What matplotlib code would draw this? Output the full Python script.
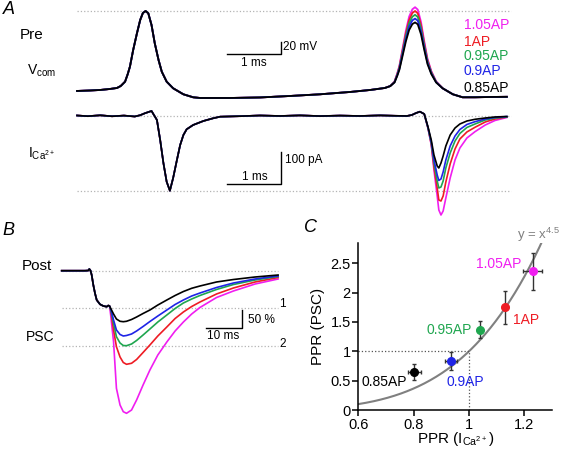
import matplotlib
matplotlib.use("Agg")
import matplotlib.pyplot as plt
import numpy as np

plt.rcParams['font.family'] = ['Liberation Sans', 'DejaVu Sans']
plt.rcParams['mathtext.fontset'] = 'custom'
plt.rcParams['mathtext.rm'] = 'Liberation Sans'

# conditions (second pulse scaling)
labels = ['1.05AP', '1AP', '0.95AP', '0.9AP', '0.85AP']
colors = ['#f01ef0', '#ee1c24', '#1fa64f', '#1f24e6', '#000000']

# ---- panel A, presynaptic voltage command (ms, mV) ----
pre_t1 = [0, 0.24, 0.43, 0.61, 0.74, 0.81, 0.89, 0.94, 0.98, 1.04, 1.11, 1.17, 1.22, 1.27,
          1.32, 1.38, 1.44, 1.51, 1.57, 1.66, 1.78, 1.97, 2.15, 2.28, 2.83, 3.39, 3.94, 4.5,
          5.06, 5.43, 5.70]
pre_v1 = [-76.8, -76.0, -75.1, -73.4, -71.7, -68.3, -60.9, -47.8, -35.3, -6.8, 21.8, 44.5,
          56.5, 59.9, 56.0, 36.0, 4.7, -23.9, -43.9, -60.9, -72.2, -82.5, -87.6, -88.8,
          -88.8, -87.9, -85.4, -82.5, -78.5, -75.1, -71.7]
pre_t2 = [5.80, 5.88, 5.93, 5.97, 6.03, 6.09, 6.15, 6.21, 6.26, 6.31, 6.37, 6.43, 6.49, 6.56, 6.65]
pre_v2 = [
    [-68.2, -60.4, -46.7, -33.6, -3.6, 26.4, 50.2, 62.8, 66.4, 62.3, 41.3, 8.4, -21.6, -42.6, -60.4],
    [-68.3, -60.9, -47.8, -35.3, -6.8, 21.8, 44.5, 56.5, 59.9, 56.0, 36.0, 4.7, -23.9, -43.9, -60.9],
    [-68.4, -61.4, -48.9, -37.0, -10.0, 17.2, 38.8, 50.2, 53.4, 49.7, 30.7, 1.0, -26.2, -45.2, -61.4],
    [-68.5, -61.8, -50.0, -38.8, -13.1, 12.6, 33.1, 43.9, 46.9, 43.4, 25.4, -2.8, -28.5, -46.5, -61.8],
    [-68.6, -62.3, -51.1, -40.5, -16.3, 8.0, 27.3, 37.5, 40.4, 37.1, 20.1, -6.5, -30.8, -47.8, -62.3],
]
pre_t3 = [6.77, 6.96, 7.14, 7.37, 7.65, 7.96]
pre_v3 = [-72.2, -82.5, -87.6, -87.6, -87.1, -86.8]

# ---- panel A, calcium current (ms, pA) ----
ica_t1 = [0, 0.20, 0.43, 0.65, 0.87, 1.07, 1.17, 1.26, 1.38, 1.48, 1.54, 1.60, 1.66, 1.72,
          1.78, 1.85, 1.91, 1.97, 2.03, 2.15, 2.34, 2.52, 2.65, 3.02, 3.39, 3.76, 4.13, 4.50,
          4.87, 5.24, 5.61, 5.89, 6.11, 6.20, 6.28, 6.35, 6.43]
ica_v1 = [0.6, -1.5, 1.2, -1.8, 0.3, -2.5, 1.5, 7.7, 14.4, -13.2, -74.6, -145.3, -202.7,
          -230.3, -191.3, -136.1, -90.1, -59.4, -41.8, -28.6, -16.3, -8.0, -3.1, -1.5, 0.6,
          -0.9, 0.9, -1.2, 0.3, -0.9, 0.9, -0.3, -0.9, 2.1, 8.3, 12.3, 5.2]
ica_t2 = [6.50, 6.56, 6.61, 6.67, 6.70, 6.74, 6.78, 6.83, 6.91, 7.00, 7.09, 7.22, 7.37, 7.56, 7.74, 7.96]
ica_v2 = [
    [-39.3, -90.0, -166.7, -246.5, -289.5, -304.9, -292.6, -252.7, -191.3, -136.0, -99.2, -68.5, -49.1, -28.6, -14.7, -5.5],
    [-37.8, -86.9, -157.5, -222.0, -258.8, -261.9, -246.5, -203.5, -148.3, -102.2, -71.5, -50.0, -35.6, -19.3, -10.1, -4.0],
    [-37.8, -83.8, -145.2, -200.5, -222.0, -218.9, -200.5, -160.6, -114.5, -77.7, -54.6, -36.2, -25.5, -13.2, -7.1, -4.0],
    [-36.2, -80.7, -136.0, -182.1, -198.9, -194.3, -172.8, -136.0, -93.0, -62.3, -42.4, -27.0, -18.4, -10.1, -5.5, -2.5],
    [-34.7, -74.6, -120.7, -154.4, -160.6, -145.2, -123.7, -93.0, -59.3, -37.8, -25.5, -16.3, -11.1, -7.1, -4.0, -2.5],
]

# ---- panel B, postsynaptic currents (ms, normalised to first PSC) ----
psc_t1 = [0, 6.47, 7.39, 7.67, 8.0, 8.33, 8.78, 9.25, 9.72, 10.64, 11.56, 12.5, 12.94, 13.28]
psc_v1 = [0, 0, 0.005, 0.045, 0.005, -0.115, -0.381, -0.603, -0.781, -0.896, -0.941, -0.96, -0.928, -0.941]
psc_t2 = [13.6, 14.4, 15.2, 16.2, 17.1, 18.0, 19.4, 20.8, 22.6, 24.5, 26.7, 29.2, 31.5,
          33.8, 36.1, 38.4, 43.0, 47.7, 53.7, 60.1]
psc_v2 = [
    [-1.181, -1.893, -3.136, -3.581, -3.76, -3.803, -3.715, -3.448, -3.048, -2.648, -2.248, -1.901, -1.608, -1.368, -1.155, -0.981, -0.715, -0.541, -0.355, -0.221],
    [-1.048, -1.581, -2.027, -2.301, -2.448, -2.496, -2.469, -2.368, -2.181, -1.981, -1.741, -1.501, -1.275, -1.101, -0.955, -0.835, -0.621, -0.461, -0.301, -0.181],
    [-1.035, -1.403, -1.76, -1.928, -1.995, -2.0, -1.955, -1.861, -1.715, -1.555, -1.368, -1.181, -1.008, -0.861, -0.755, -0.661, -0.501, -0.368, -0.248, -0.155],
    [-1.021, -1.315, -1.581, -1.701, -1.741, -1.728, -1.688, -1.608, -1.488, -1.355, -1.208, -1.048, -0.901, -0.781, -0.675, -0.595, -0.448, -0.328, -0.221, -0.141],
    [-1.003, -1.155, -1.288, -1.349, -1.36, -1.349, -1.301, -1.235, -1.141, -1.048, -0.915, -0.781, -0.661, -0.555, -0.469, -0.408, -0.301, -0.235, -0.168, -0.115],
]

# ---- panel C, paired-pulse ratios ----
ppr_ca = [1.230, 1.130, 1.040, 0.934, 0.802]
ppr_ca_err = [0.035, 0.007, 0.005, 0.022, 0.024]
ppr_psc = [2.36, 1.75, 1.37, 0.83, 0.645]
ppr_psc_err = [0.32, 0.28, 0.15, 0.15, 0.135]
fit_exp = 4.5

W, H = 562, 449
def P(x, y):
    return x / W, 1 - y / H

fig = plt.figure(figsize=(W / 100, H / 100), dpi=100)
grey = '#b4b4b4'

# --- A top ---
axA1 = fig.add_axes([0, 1 - 105 / H, 1, 105 / H])
axA1.set_xlim(-1.426, 8.981)
axA1.set_ylim(-100.8, 78.7)
axA1.axis('off')
axA1.plot([0, 8.04], [max(pre_v1)] * 2, ls=':', color=grey, lw=0.9)
for i in range(5):
    t = pre_t1 + pre_t2 + pre_t3
    v = pre_v1 + pre_v2[i] + pre_v3
    axA1.plot(t, v, color=colors[i], lw=1.3)
axA1.plot([2.78, 3.78, 3.78], [-13.6, -13.6, 6.4], color='k', lw=1)

# --- A bottom ---
axA2 = fig.add_axes([0, 1 - 225 / H, 1, 120 / H])
axA2.set_xlim(-1.426, 8.981)
axA2.set_ylim(-335.6, 32.8)
axA2.axis('off')
axA2.plot([0, 8.04], [0, 0], ls=':', color=grey, lw=0.9)
axA2.plot([0, 8.04], [min(ica_v1)] * 2, ls=':', color=grey, lw=0.9)
for i in range(5):
    axA2.plot(ica_t1 + ica_t2, ica_v1 + ica_v2[i], color=colors[i], lw=1.2)
axA2.plot([2.78, 3.78, 3.78], [-210.6, -210.6, -110.6], color='k', lw=1)

# --- B ---
axB = fig.add_axes([0, 0, 300 / W, 224 / H])
axB.set_xlim(-17.14, 66.19)
axB.set_ylim(-4.755, 1.219)
axB.axis('off')
for lev in [0, -1, -2]:
    axB.plot([0, 60.2], [lev, lev], ls=':', color=grey, lw=0.9)
for i in range(5):
    axB.plot(psc_t1 + psc_t2, psc_v1 + psc_v2[i], color=colors[i], lw=1.2)
axB.plot([40, 50, 50], [-1.536, -1.536, -1.036], color='k', lw=1)

# --- C ---
axC = fig.add_axes([358.3 / W, 1 - 410 / H, 193.7 / W, 167.3 / H])
xs = np.linspace(0.6, 1.3, 200)
axC.plot(xs, xs ** fit_exp, color='#808080', lw=1.5, zorder=1)
axC.plot([0.6, 1.0, 1.0], [1, 1, 0], ls=':', color='#555555', lw=0.9, zorder=1)
for i in range(5):
    axC.errorbar(ppr_ca[i], ppr_psc[i], xerr=ppr_ca_err[i], yerr=ppr_psc_err[i],
                 fmt='o', color=colors[i], ms=5.5, ecolor='#333333', elinewidth=1,
                 capsize=1.5, zorder=3)
axC.set_xlim(0.6, 1.3)
axC.set_ylim(0, 2.85)
axC.set_xticks([0.6, 0.8, 1.0, 1.2])
axC.set_xticklabels(['0.6', '0.8', '1', '1.2'])
axC.set_yticks([0, 0.5, 1, 1.5, 2, 2.5])
axC.set_yticklabels(['0', '0.5', '1', '1.5', '2', '2.5'])
for s in ['top', 'right']:
    axC.spines[s].set_visible(False)
for s in ['left', 'bottom']:
    axC.spines[s].set_linewidth(1.1)
axC.tick_params(direction='out', length=4, width=1.1, labelsize=10.5, pad=1.5)
axC.set_xlabel(r'PPR (I$_{\mathregular{Ca}^{\mathregular{2+}}}$)', fontsize=11, labelpad=-1)
axC.set_ylabel('PPR (PSC)', fontsize=11, labelpad=4)
axC.text(1.19, 2.48, labels[0], color=colors[0], fontsize=10, ha='right', va='center')
axC.text(1.16, 1.53, labels[1], color=colors[1], fontsize=10, ha='left', va='center')
axC.text(1.012, 1.36, labels[2], color=colors[2], fontsize=10, ha='right', va='center')
axC.text(0.919, 0.47, labels[3], color=colors[3], fontsize=10, ha='left', va='center')
axC.text(0.612, 0.47, labels[4], color=colors[4], fontsize=10, ha='left', va='center')
axC.text(1.172, 2.99, r'y = x$^{\mathregular{4.5}}$', color='#808080', fontsize=9.5,
         ha='left', va='center', clip_on=False)

# --- text labels ---
def T(x, y, s, **kw):
    fig.text(*P(x, y), s, **kw)

T(3, 9, 'A', fontsize=13, style='italic', va='center')
T(2, 231, 'B', fontsize=13, style='italic', va='center')
T(304, 228, 'C', fontsize=13, style='italic', va='center')
T(20, 35, 'Pre', fontsize=11, va='center')
T(27, 71, r'V$_{\mathregular{com}}$', fontsize=10, va='center')
T(28, 154, r'I$_{\mathregular{Ca}^{\mathregular{2+}}}$', fontsize=10, va='center')
T(22, 266, 'Post', fontsize=11, va='center')
T(26, 337, 'PSC', fontsize=10, va='center')
for i, yy in enumerate([25, 41.5, 56, 71, 87.5]):
    T(464, yy, labels[i], color=colors[i], fontsize=10, va='center')
T(283, 47, '20 mV', fontsize=8.5, va='center')
T(254, 62.5, '1 ms', fontsize=8.5, ha='center', va='center')
T(285, 160, '100 pA', fontsize=8.5, va='center')
T(254.5, 176.5, '1 ms', fontsize=8.5, ha='center', va='center')
T(248, 320, '50 %', fontsize=8.5, va='center')
T(223, 336, '10 ms', fontsize=8.5, ha='center', va='center')
T(279, 304, '1', fontsize=8.5, va='center')
T(279, 344, '2', fontsize=8.5, va='center')

fig.savefig('out.png', dpi=100)
